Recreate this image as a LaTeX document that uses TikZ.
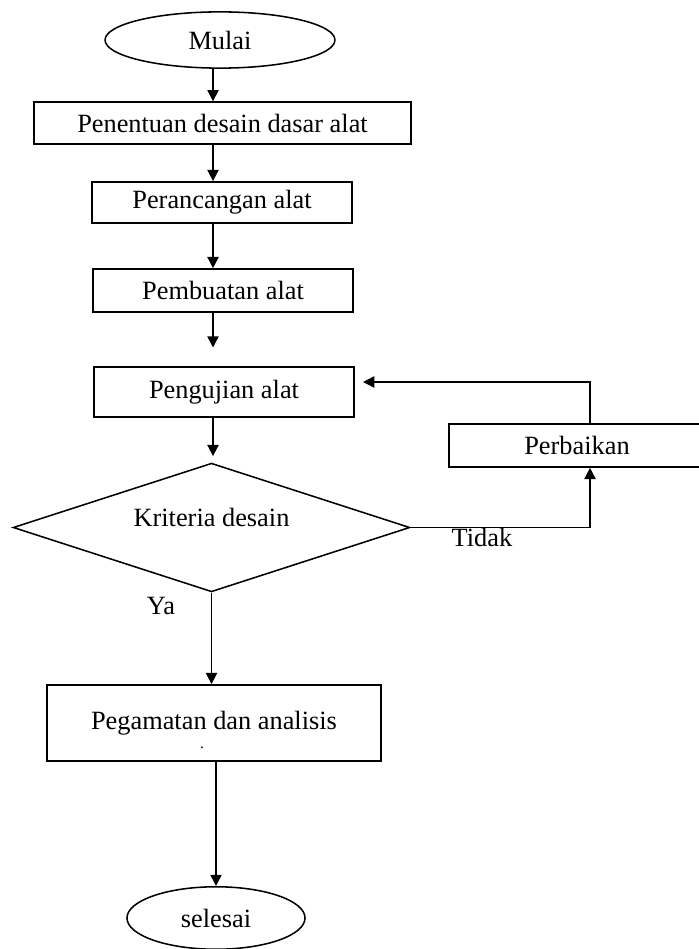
\documentclass[tikz,border=0pt]{standalone}
\usepackage{fontspec}
\setmainfont{Liberation Serif}
\usetikzlibrary{shapes.geometric,arrows.meta}

\begin{document}
\begin{tikzpicture}[x=0.016cm,y=-0.016cm,
  every node/.style={font=\fontsize{12}{14}\selectfont},
  terminal/.style={draw,ellipse,line width=0.7pt,inner sep=0pt},
  proses/.style={draw,rectangle,line width=0.7pt,inner sep=0pt},
  keputusan/.style={draw,diamond,shape aspect=3,line width=0.7pt,inner sep=0pt},
  arr/.style={-{Triangle[width=0.18cm,length=0.18cm]},line width=0.7pt}]
\useasboundingbox (0,0) rectangle (699,949);
\clip (0,0) rectangle (699,949);
\node[terminal,minimum width=3.68cm,minimum height=0.9cm] (mulai) at (220,40) {Mulai};
\node[proses,minimum width=6.03cm,minimum height=0.67cm] (penentuan) at (222.5,123) {Penentuan desain dasar alat};
\node[proses,minimum width=4.16cm,minimum height=0.66cm] (perancangan) at (222,202.5) {Perancangan alat};
\node[proses,minimum width=4.16cm,minimum height=0.69cm] (pembuatan) at (223,290.5) {Pembuatan alat};
\node[proses,minimum width=4.16cm,minimum height=0.8cm] (pengujian) at (224,392) {Pengujian alat};
\node[keputusan,minimum width=6.35cm,minimum height=2.06cm] (kriteria) at (211.5,527.5) {\raisebox{0.32cm}{Kriteria desain}};
\node[proses,minimum width=4.1cm,minimum height=0.69cm] (perbaikan) at (577,445.5) {Perbaikan};
\node[proses,minimum width=5.34cm,minimum height=1.22cm] (pegamatan) at (214,723) {Pegamatan dan analisis};
\node[font=\scriptsize] (titik) at (202,748) {.};
\node[terminal,minimum width=2.85cm,minimum height=1cm] (selesai) at (216,918) {selesai};
\node (tidak) at (482,537) {Tidak};
\node (ya) at (161,606) {Ya};
\coordinate (poros) at (213,0);
\coordinate (putar) at (590,0);
\coordinate (balik) at (363,382);
\draw[arr] (mulai.south -| poros) -- (penentuan.north -| poros);
\draw[arr] (penentuan.south -| poros) -- (perancangan.north -| poros);
\draw[arr] (perancangan.south -| poros) -- (pembuatan.north -| poros);
\draw[arr,shorten >=0.3cm] (pembuatan.south -| poros) -- (pengujian.north -| poros);
\draw[arr,shorten >=0.1cm] (pengujian.south -| poros) -- (kriteria.north -| poros);
\draw[arr] (kriteria.east) -| (perbaikan.south -| putar);
\draw[arr] (perbaikan.north -| putar) |- (balik);
\draw[arr] (kriteria.south) -- (pegamatan.north -| kriteria.south);
\draw[arr] (pegamatan.south -| selesai) -- (selesai.north);
\end{tikzpicture}
\end{document}
